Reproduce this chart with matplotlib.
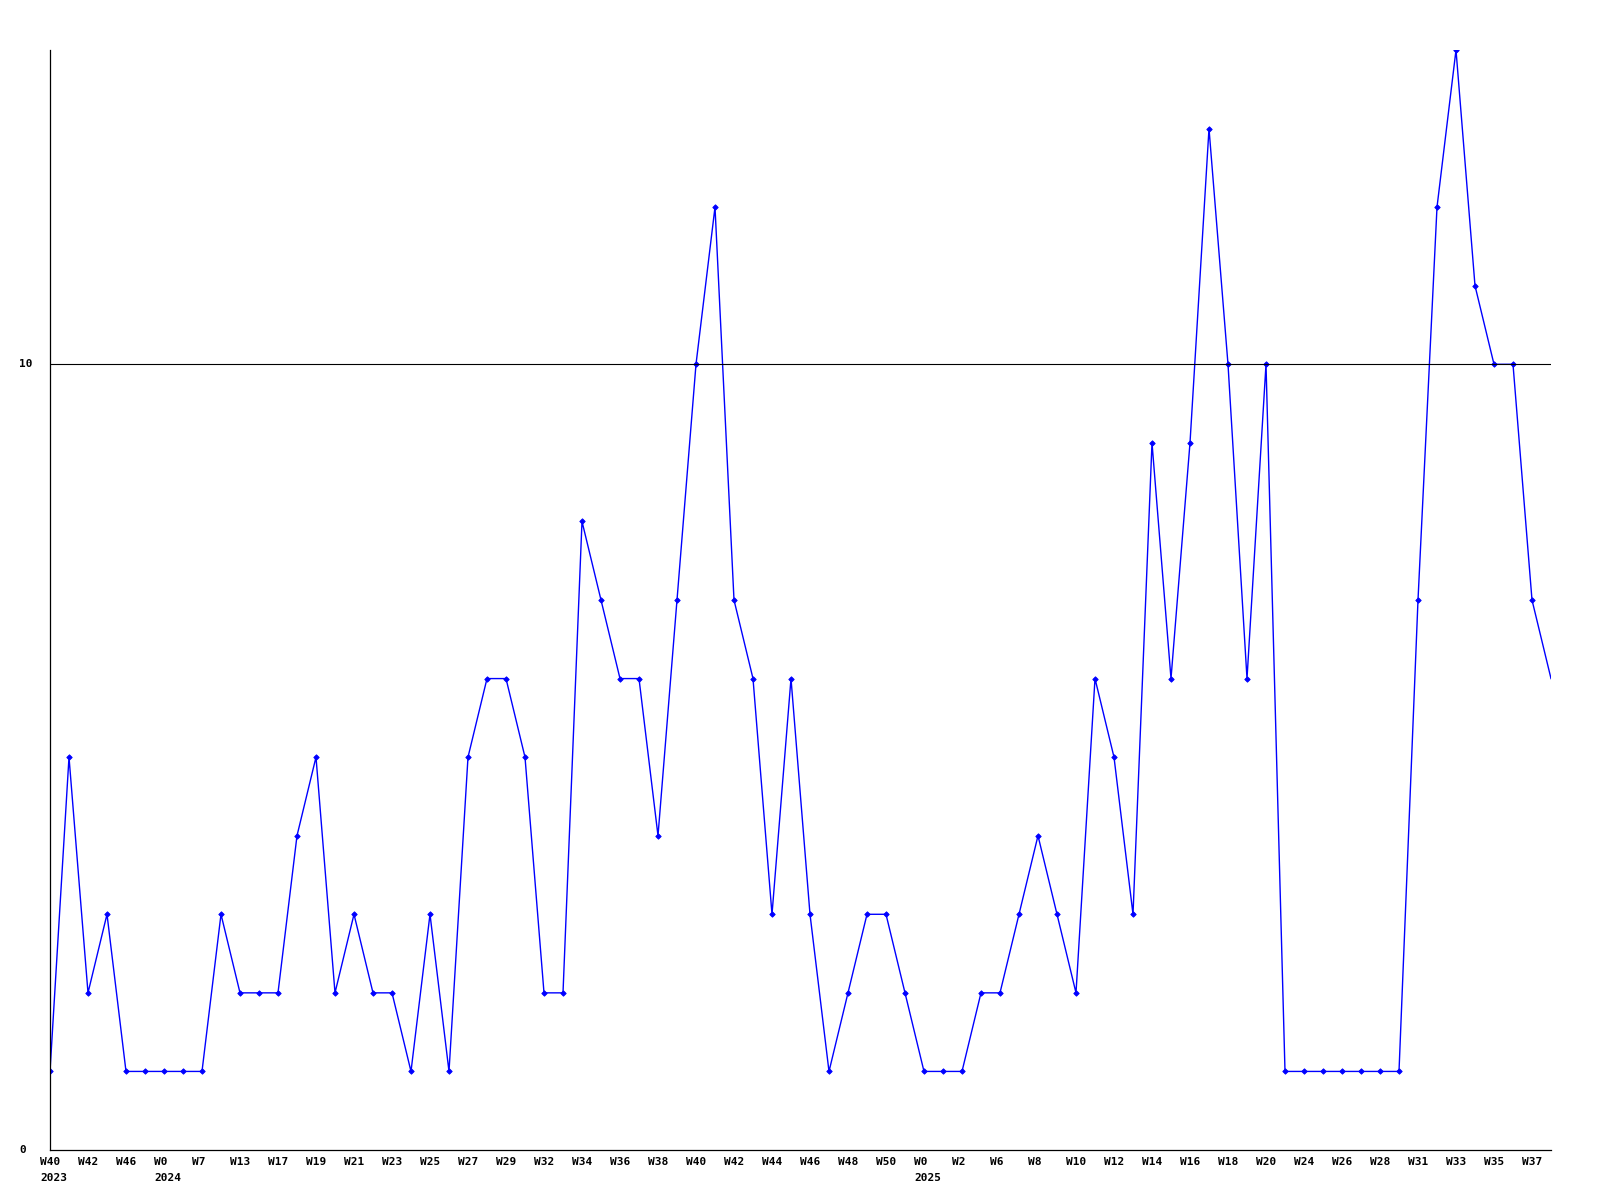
import matplotlib
matplotlib.use("Agg")
import matplotlib.pyplot as plt
import matplotlib.transforms as mtransforms

# valori saptamanale
valori = [1, 5, 2, 3, 1, 1, 1, 1, 1, 3,
          2, 2, 2, 4, 5, 2, 3, 2, 2, 1,
          3, 1, 5, 6, 6, 5, 2, 2, 8, 7,
          6, 6, 4, 7, 10, 12, 7, 6, 3, 6,
          3, 1, 2, 3, 3, 2, 1, 1, 1, 2,
          2, 3, 4, 3, 2, 6, 5, 3, 9, 6,
          9, 13, 10, 6, 10, 1, 1, 1, 1, 1,
          1, 1, 7, 12, 14, 11, 10, 10, 7, 6]

# etichete pe axa x, una la fiecare doua puncte
etichete_saptamani = ["W40", "W42", "W46", "W0", "W7", "W13", "W17", "W19", "W21", "W23",
                      "W25", "W27", "W29", "W32", "W34", "W36", "W38", "W40", "W42", "W44",
                      "W46", "W48", "W50", "W0", "W2", "W6", "W8", "W10", "W12", "W14",
                      "W16", "W18", "W20", "W24", "W26", "W28", "W31", "W33", "W35", "W37"]
ani = {0: "2023", 6: "2024", 46: "2025"}

etichete_y = [0, 10]

fig = plt.figure(figsize=(16, 12), dpi=100)
ax = fig.add_axes([50 / 1600, 1 - 1150 / 1200, 1501 / 1600, 1100 / 1200])

x = list(range(len(valori)))
# ultimul punct cade pe marginea axei, fara marker
ax.plot(x, valori, color="#0000ff", linewidth=1.0, marker="D", markersize=2.8,
        markeredgewidth=0.6, markevery=list(range(len(valori) - 1)))
ax.axhline(10, color="black", linewidth=0.8)

ax.set_xlim(0, len(valori) - 1)
ax.set_ylim(0, 14)
ax.set_xticks([])
ax.set_yticks([])
for s in ["top", "right"]:
    ax.spines[s].set_visible(False)
for s in ["left", "bottom"]:
    ax.spines[s].set_linewidth(0.9)

font = dict(family="DejaVu Sans Mono", fontweight="bold", fontsize=8)

# etichetele x: aliniate la stanga, putin la stanga punctului
trans = mtransforms.blended_transform_factory(ax.transData, ax.transAxes)
trans_w = trans + mtransforms.ScaledTranslation(-10 / 100, -12 / 100, fig.dpi_scale_trans)
trans_an = trans + mtransforms.ScaledTranslation(-10 / 100, -28 / 100, fig.dpi_scale_trans)
for i, et in enumerate(etichete_saptamani):
    ax.text(2 * i, 0, et, transform=trans_w, ha="left", va="center", **font)
for poz, an in ani.items():
    ax.text(poz, 0, an, transform=trans_an, ha="left", va="center", **font)

# etichetele y
trans_y = mtransforms.blended_transform_factory(fig.transFigure, ax.transData)
for v in etichete_y:
    ax.text(19 / 1600, v, str(v), transform=trans_y, ha="left", va="center", **font)

fig.savefig("out.png", dpi=100, facecolor="white")
